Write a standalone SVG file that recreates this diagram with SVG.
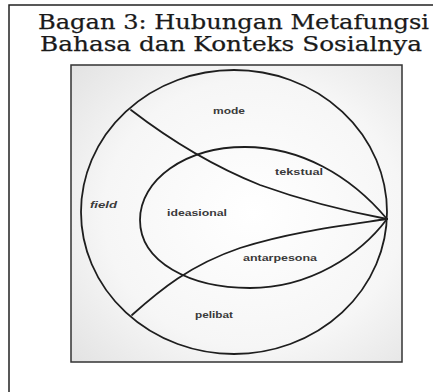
<svg xmlns="http://www.w3.org/2000/svg" width="433" height="392" viewBox="0 0 433 392">
<defs>
<radialGradient id="bg" cx="0.55" cy="0.5" r="0.75">
<stop offset="0" stop-color="#ffffff"/>
<stop offset="0.6" stop-color="#f6f6f6"/>
<stop offset="1" stop-color="#e2e2e2"/>
</radialGradient>
</defs>
<style>
.title{font-family:"DejaVu Serif","Liberation Serif",serif;font-size:21px;fill:#1a1a1a;stroke:#1a1a1a;stroke-width:0.25}
.lbl{font-family:"Liberation Sans",Arial,sans-serif;font-size:9.5px;font-weight:bold;fill:#3a3a3a;text-anchor:start}
.ln{fill:none;stroke:#1e1e1e;stroke-width:1.8;stroke-linecap:round}
</style>
<rect x="0" y="0" width="433" height="392" fill="#ffffff"/>
<rect x="9" y="5" width="440" height="400" fill="none" stroke="#222" stroke-width="1.5"/>
<g id="title">
<text class="title" x="38" y="29" textLength="391" lengthAdjust="spacingAndGlyphs">Bagan 3: Hubungan Metafungsi</text>
<text class="title" x="40" y="51" textLength="382" lengthAdjust="spacingAndGlyphs">Bahasa dan Konteks Sosialnya</text>
</g>
<g id="frame">
<rect x="71" y="65" width="331" height="297" fill="url(#bg)" stroke="#333" stroke-width="1.5"/>
</g>
<g id="context">
<ellipse cx="234" cy="212" rx="153" ry="142" fill="#ffffff" class="ln"/>
</g>
<g id="language">
<path class="ln" d="M387,219 C350,175 300,147 245,147 C185,147 140,180 140,220 C140,262 190,288 250,288 C310,288 360,255 387,219 Z"/>
</g>
<g id="connectors">
<path class="ln" d="M131,110 C170,140 210,165 260,185 C310,203 350,212 387,219"/>
<path class="ln" d="M132,315 C160,290 190,265 240,248 C290,232 340,226 387,219"/>
</g>
<g id="mode"><text class="lbl" x="213" y="114" textLength="32" lengthAdjust="spacingAndGlyphs">mode</text></g>
<g id="tekstual"><text class="lbl" x="275" y="175" textLength="48" lengthAdjust="spacingAndGlyphs">tekstual</text></g>
<g id="field"><text class="lbl" x="90" y="208" textLength="27" lengthAdjust="spacingAndGlyphs" font-style="italic">field</text></g>
<g id="ideasional"><text class="lbl" x="167" y="216" textLength="60" lengthAdjust="spacingAndGlyphs">ideasional</text></g>
<g id="antarpesona"><text class="lbl" x="243" y="261" textLength="74" lengthAdjust="spacingAndGlyphs">antarpesona</text></g>
<g id="pelibat"><text class="lbl" x="195" y="318" textLength="38" lengthAdjust="spacingAndGlyphs">pelibat</text></g>
</svg>
